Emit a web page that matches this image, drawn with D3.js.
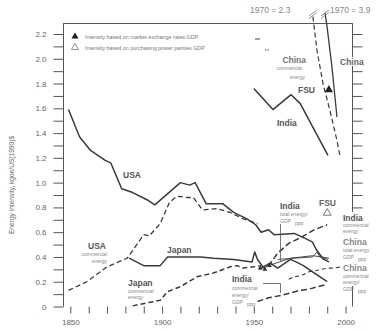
<!DOCTYPE html>
<html>
<head>
<meta charset="utf-8">
<script src="https://cdn.jsdelivr.net/npm/d3@7"></script>
<style>
  body { margin: 0; background: #fff; }
  text { font-family: "Liberation Sans", Arial, sans-serif; }
</style>
</head>
<body>
<div id="chart"></div>
<script>
// series as [year, kgoe per US(1990)$]
const usaTotal = [[1849,1.59],[1855,1.37],[1861,1.26],[1869,1.18],[1872,1.16],[1878,0.95],[1884,0.92],[1892,0.86],[1896,0.82],[1910,1.00],[1915,0.98],[1918,1.00],[1924,0.83],[1933,0.83],[1939,0.76],[1946,0.71],[1951,0.66],[1954,0.60],[1958,0.62],[1961,0.58],[1972,0.59],[1978,0.55],[1982,0.52],[1984,0.46],[1988,0.38],[1991,0.36]];
const usaCommercial = [[1849,0.13],[1859,0.20],[1870,0.32],[1881,0.39],[1890,0.58],[1893,0.57],[1899,0.67],[1904,0.84],[1908,0.89],[1914,0.88],[1917,0.88],[1922,0.78],[1930,0.79],[1937,0.76],[1944,0.71],[1952,0.67]];
const japanTotal = [[1882,0.39],[1890,0.33],[1899,0.33],[1903,0.40],[1915,0.40],[1921,0.40],[1928,0.39],[1939,0.38],[1949,0.36],[1950.5,0.44],[1952,0.38],[1955,0.32],[1959,0.35],[1963,0.31],[1970,0.38],[1973,0.36],[1977,0.33],[1984,0.26],[1990,0.20]];
const japanCommercial = [[1884,0.005],[1892,0.03],[1899,0.05],[1903,0.12],[1910,0.16],[1919,0.24],[1928,0.27],[1937,0.32],[1941,0.33],[1944,0.31],[1950,0.32],[1954,0.33]];
const indiaCommercial = [[1953,0.30],[1959,0.35],[1963,0.43],[1969,0.51],[1976,0.56],[1983,0.62],[1990,0.66]];
const indiaTotalPPP = [[1955,0.31],[1960,0.34],[1964,0.36],[1970,0.39],[1976,0.40],[1982,0.41],[1987,0.40],[1991,0.39]];
const chinaTotalPPP = [[1963,0.38],[1972,0.39],[1982,0.40],[1984.5,0.44],[1986,0.40],[1990.5,0.38]];
const chinaCommercialPPP = [[1969,0.22],[1972,0.24],[1976,0.25],[1980,0.28],[1984,0.29],[1990,0.31],[1993,0.31],[1998,0.32]];
const indiaCommercialPPP = [[1952,0.04],[1958,0.07],[1965,0.09],[1970,0.11],[1975,0.13],[1980,0.14],[1985,0.16],[1990,0.18]];
const indiaTotal = [[1950,1.76],[1960.4,1.59],[1970.3,1.71],[1975.2,1.64],[1990.4,1.22]];
const chinaCommercial = [[1982.2,2.34],[1984.4,2.07],[1987.7,1.80],[1991.5,1.58],[1995.3,1.34],[1997,1.21]];
const chinaTotal = [[1988.8,2.37],[1989.9,2.26],[1992.6,1.93],[1995.3,1.53]];
const fsuMER = [[1990.9,1.75]];
const fsuPPP = [[1990,0.755]];
const clusterMarks = [[1953.5,0.31],[1956,0.30],[1958.5,0.33]];
const breakPoints = [[1982.2,2.36],[1988.8,2.36]];

const xTickValues = [1850,1860,1870,1880,1890,1900,1910,1920,1930,1940,1950,1960,1970,1980,1990,2000];
const xTickLabels = ["1850","1900","1950","2000"];
const yTickValues = [0,0.1,0.2,0.3,0.4,0.5,0.6,0.7,0.8,0.9,1.0,1.1,1.2,1.3,1.4,1.5,1.6,1.7,1.8,1.9,2.0,2.1,2.2];
const yTickLabels = ["0","0.2","0.4","0.6","0.8","1.0","1.2","1.4","1.6","1.8","2.0","2.2"];
const rightTickValues = [0.8,0.9,1.0,1.1,1.2,1.3,1.4,1.5,1.6,1.7,1.8,1.9,2.0,2.1,2.2];

const W = 377, H = 331;
const ink = "#3a3a3a";
const x = d3.scaleLinear().domain([1846, 2003.5]).range([63, 352]);
const y = d3.scaleLinear().domain([0, 2.2]).range([306.5, 34]);

const svg = d3.select("#chart").append("svg")
  .attr("width", W).attr("height", H);

// frame
const frame = svg.append("g").attr("stroke", "#555").attr("stroke-width", 1).attr("fill", "none");
frame.append("line").attr("x1", 63).attr("x2", 352).attr("y1", 23.5).attr("y2", 23.5);
frame.append("line").attr("x1", 63.5).attr("x2", 63.5).attr("y1", 23).attr("y2", 306.5);
frame.append("line").attr("x1", 352.5).attr("x2", 352.5).attr("y1", 23).attr("y2", 212);
frame.append("line").attr("x1", 352.5).attr("x2", 352.5).attr("y1", 286).attr("y2", 306.5);

// axes
const xAxis = svg.append("g").attr("transform", "translate(0,306.5)")
  .call(d3.axisBottom(x).tickValues(xTickValues).tickSize(7).tickPadding(6)
    .tickFormat(d => xTickLabels.includes(String(d)) ? String(d) : ""));
const yAxis = svg.append("g").attr("transform", "translate(63.5,0)")
  .call(d3.axisLeft(y).tickValues(yTickValues).tickSize(10).tickPadding(7)
    .tickFormat(d => {
      const s = d === 0 ? "0" : d.toFixed(1);
      return yTickLabels.includes(s) ? s : "";
    }));
const rAxis = svg.append("g").attr("transform", "translate(352.5,0)")
  .call(d3.axisRight(y).tickValues(rightTickValues).tickSize(10).tickFormat(""));
[xAxis, yAxis, rAxis].forEach(g => {
  g.select(".domain").remove();
  g.selectAll(".tick line").attr("stroke", "#555");
  g.selectAll(".tick text").attr("fill", "#666").style("font-size", "8px")
    .style("font-family", "'Liberation Sans', Arial, sans-serif");
});
xAxis.selectAll(".tick text").attr("dy", "0.71em");

svg.append("text")
  .attr("transform", "translate(14,185) rotate(-90)")
  .attr("text-anchor", "middle")
  .attr("fill", "#666").style("font-size", "6.6px")
  .text("Energy intensity, kgoe/US(1990)$");

// lines
const line = d3.line().x(d => x(d[0])).y(d => y(d[1]));
const seriesStyles = [
  {data: usaTotal, w: 1.5, dash: null},
  {data: usaCommercial, w: 1.3, dash: "5,3"},
  {data: japanTotal, w: 1.5, dash: null},
  {data: japanCommercial, w: 1.5, dash: "5,3"},
  {data: indiaCommercial, w: 1.5, dash: "6,3"},
  {data: indiaTotalPPP, w: 0.9, dash: null},
  {data: chinaTotalPPP, w: 0.9, dash: null},
  {data: chinaCommercialPPP, w: 1.1, dash: "4,3"},
  {data: indiaCommercialPPP, w: 1.5, dash: "6,3"},
  {data: indiaTotal, w: 1.5, dash: null},
  {data: chinaCommercial, w: 1.2, dash: "5,3"},
  {data: chinaTotal, w: 1.3, dash: null}
];
svg.append("g").selectAll("path").data(seriesStyles).enter().append("path")
  .attr("d", s => line(s.data))
  .attr("fill", "none")
  .attr("stroke", ink)
  .attr("stroke-width", s => s.w)
  .attr("stroke-dasharray", s => s.dash)
  .attr("stroke-linejoin", "round");

// break marks on the off-scale lines
svg.append("g").selectAll("g").data(breakPoints).enter().append("g")
  .attr("transform", d => `translate(${x(d[0])},${y(d[1])})`)
  .selectAll("line").data([-1.3, 1.3]).enter().append("line")
  .attr("x1", -4).attr("y1", o => 3 + o).attr("x2", 4).attr("y2", o => -3 + o)
  .attr("stroke", "#777").attr("stroke-width", 0.8);

// markers
const tri = d3.symbol().type(d3.symbolTriangle);
svg.append("g").selectAll("path").data(fsuMER).enter().append("path")
  .attr("d", tri.size(30)()).attr("fill", "#222")
  .attr("transform", d => `translate(${x(d[0])},${y(d[1])})`);
svg.append("g").selectAll("path").data(fsuPPP).enter().append("path")
  .attr("d", tri.size(26)()).attr("fill", "none").attr("stroke", "#555").attr("stroke-width", 0.8)
  .attr("transform", d => `translate(${x(d[0])},${y(d[1])})`);
svg.append("g").selectAll("path").data(clusterMarks).enter().append("path")
  .attr("d", tri.size(10)()).attr("fill", "#333")
  .attr("transform", d => `translate(${x(d[0])},${y(d[1])})`);

// legend
const legend = svg.append("g");
legend.append("path").attr("d", tri.size(22)()).attr("fill", "#222").attr("transform", "translate(75,36.5)");
legend.append("path").attr("d", tri.size(22)()).attr("fill", "none").attr("stroke", "#666").attr("stroke-width", 0.7)
  .attr("transform", "translate(75,47.5)");
legend.append("text").attr("x", 85).attr("y", 38.5).attr("fill", "#777").style("font-size", "5.4px")
  .text("Intensity based on market exchange rates GDP");
legend.append("text").attr("x", 85).attr("y", 49.5).attr("fill", "#777").style("font-size", "5.4px")
  .text("Intensity based on purchasing power parities GDP");
legend.append("line").attr("x1", 255).attr("x2", 260).attr("y1", 39).attr("y2", 39).attr("stroke", "#444").attr("stroke-width", 1);
legend.append("line").attr("x1", 265).attr("x2", 270).attr("y1", 50).attr("y2", 50).attr("stroke", "#555").attr("stroke-width", 1).attr("stroke-dasharray", "1.5,1");

// leader lines
const leaders = svg.append("g").attr("stroke", "#555").attr("stroke-width", 0.8).attr("fill", "none");
leaders.append("path").attr("d", "M280.5,224V262");
leaders.append("path").attr("d", "M263,283.5H280.5V293");

// labels
const big = [
  ["USA", 123, 178, "#555", "start"],
  ["USA", 88, 249, "#555", "start"],
  ["Japan", 167, 253, "#555", "start"],
  ["Japan", 128, 286, "#555", "start"],
  ["India", 280, 209, "#555", "start"],
  ["FSU", 319, 206, "#666", "start"],
  ["India", 343, 221, "#555", "start"],
  ["China", 343, 245, "#888", "start"],
  ["China", 343, 271, "#888", "start"],
  ["India", 232, 282, "#555", "start"],
  ["China", 306, 63, "#777", "end"],
  ["FSU", 298, 93, "#555", "start"],
  ["India", 277, 126, "#555", "start"]
];
const small = [
  ["commercial", 107, 256, "end"], ["energy", 107, 262.5, "end"],
  ["commercial", 128, 292.5, "start"], ["energy", 128, 299, "start"],
  ["total  energy/", 280, 215.5, "start"], ["GDP", 280, 223, "start"], ["ppp", 295, 225, "start"],
  ["commercial", 343, 227, "start"], ["energy", 343, 233, "start"],
  ["total  energy", 343, 251.5, "start"], ["GDP", 343, 259, "start"], ["ppp", 358, 261, "start"],
  ["commercial", 343, 277.5, "start"], ["energy/", 343, 284, "start"], ["GDP", 343, 291, "start"], ["ppp", 358, 293, "start"],
  ["commercial", 232, 290, "start"], ["energy/", 232, 297, "start"], ["GDP", 232, 304, "start"], ["ppp", 247, 306, "start"],
  ["commercial", 302, 70, "end"], ["energy", 305, 78.5, "end"]
];
svg.append("g").selectAll("text").data(big).enter().append("text")
  .attr("x", d => d[1]).attr("y", d => d[2]).attr("fill", d => d[3])
  .attr("text-anchor", d => d[4])
  .style("font-size", "8.5px").style("font-weight", "bold")
  .text(d => d[0]);
svg.append("g").selectAll("text").data(small).enter().append("text")
  .attr("x", d => d[1]).attr("y", d => d[2]).attr("text-anchor", d => d[3])
  .attr("fill", "#888").style("font-size", "5px")
  .text(d => d[0]);

// China label beside the right axis
svg.append("rect").attr("x", 340).attr("y", 57).attr("width", 23).attr("height", 9).attr("fill", "#fff");
svg.append("text").attr("x", 340).attr("y", 65).attr("fill", "#666")
  .style("font-size", "8.5px").style("font-weight", "bold").text("China");

svg.append("text").attr("x", 250).attr("y", 13).attr("fill", "#888").style("font-size", "8.5px").text("1970 = 2.3");
svg.append("text").attr("x", 330).attr("y", 13).attr("fill", "#888").style("font-size", "8.5px").text("1970 = 3.9");
</script>
</body>
</html>
